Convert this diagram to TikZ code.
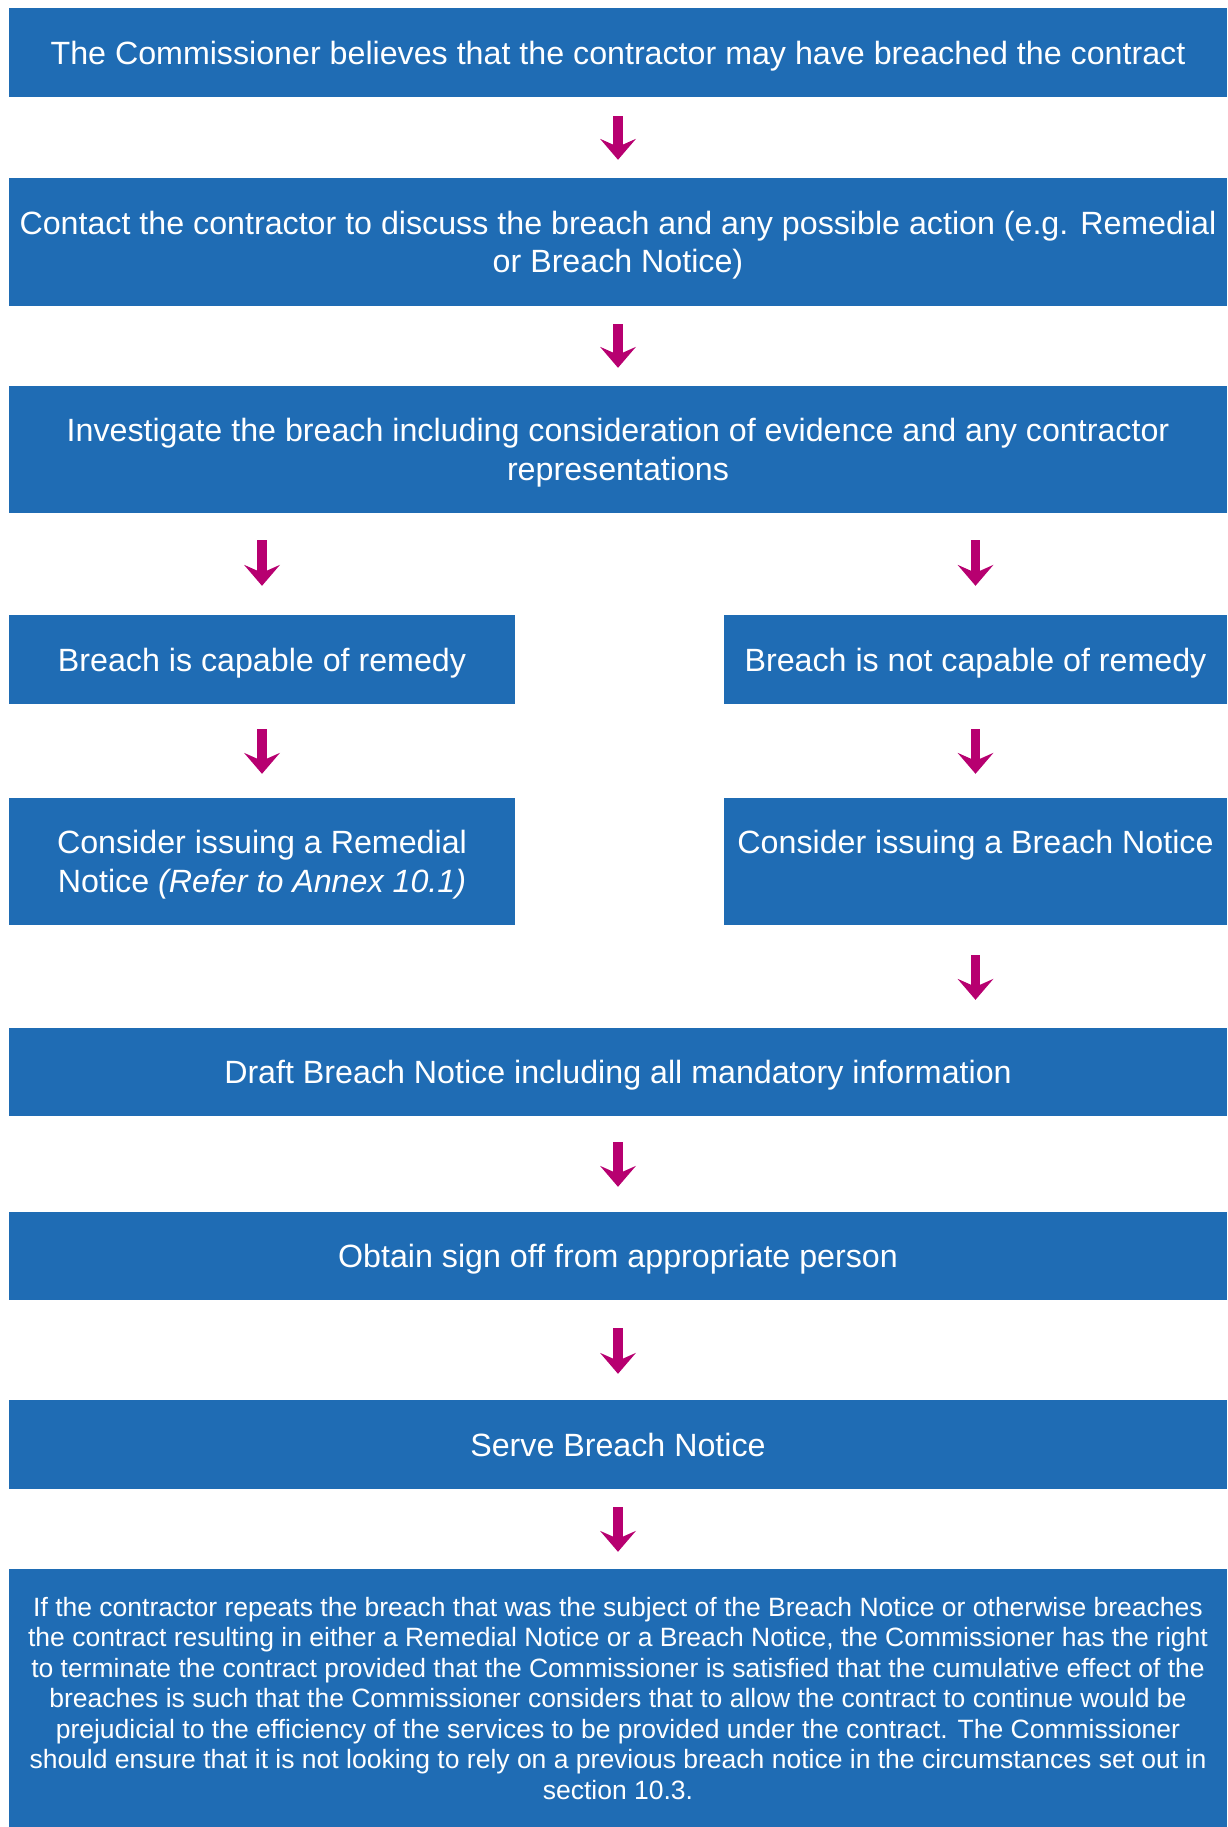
\documentclass[tikz,border=0pt]{standalone}
\usepackage{fontspec}
\setmainfont{Liberation Sans}
\usetikzlibrary{arrows.meta}
\definecolor{boxblue}{RGB}{31,108,180}
\definecolor{arrmag}{RGB}{183,0,112}
\begin{document}
\begin{tikzpicture}[x=1pt,y=-1pt,
  stepbox/.style={rectangle, fill=boxblue, text=white, inner sep=0pt, align=center,
    text depth=0pt, font=\fontsize{32.2}{38.5}\selectfont},
  wide/.style={minimum width=1218pt},
  half/.style={minimum width=506pt},
  halfr/.style={minimum width=503pt},
  blk/.style={draw=arrmag, line width=9.5pt,
    -{Stealth[length=21pt,width=36pt,inset=8pt,line width=0pt,fill=arrmag]}}
]
\useasboundingbox (0,0) rectangle (1227,1827);
\fill[white] (0,0) rectangle (1227,1827);

\node[stepbox, wide, minimum height=89pt] (b1) at (618,52.5)
  {The Commissioner believes that the contractor may have breached the contract};
\node[stepbox, wide, minimum height=128pt] (b2) at (618,242)
  {Contact the contractor to discuss the breach and any possible action (e.g. Remedial\\ or Breach Notice)};
\node[stepbox, wide, minimum height=127pt] (b3) at (618,449.5)
  {Investigate the breach including consideration of evidence and any contractor\\ representations};
\node[stepbox, half, minimum height=89pt] (b4l) at (262,659.5)
  {Breach is capable of remedy};
\node[stepbox, halfr, minimum height=89pt] (b4r) at (975.5,659.5)
  {Breach is not capable of remedy};
\node[stepbox, half, minimum height=127pt] (b6l) at (262,861.5)
  {Consider issuing a Remedial\\ Notice \textit{(Refer to Annex 10.1)}};
\node[stepbox, halfr, minimum height=127pt] (b6r) at (975.5,861.5)
  {Consider issuing a Breach Notice\\ \mbox{}};
\node[stepbox, wide, minimum height=88pt] (b8) at (618,1072)
  {Draft Breach Notice including all mandatory information};
\node[stepbox, wide, minimum height=88pt] (b9) at (618,1256)
  {Obtain sign off from appropriate person};
\node[stepbox, wide, minimum height=89pt] (b10) at (618,1444.5)
  {Serve Breach Notice};
\node[stepbox, wide, minimum height=258pt, text depth=-10pt,
      font=\fontsize{26.5}{30.5}\selectfont] (b11) at (618,1698)
  {If the contractor repeats the breach that was the subject of the Breach Notice or otherwise breaches\\
   the contract resulting in either a Remedial Notice or a Breach Notice, the Commissioner has the right\\
   to terminate the contract provided that the Commissioner is satisfied that the cumulative effect of the\\
   breaches is such that the Commissioner considers that to allow the contract to continue would be\\
   prejudicial to the efficiency of the services to be provided under the contract. The Commissioner\\
   should ensure that it is not looking to rely on a previous breach notice in the circumstances set out in\\
   section 10.3.};

\draw[blk, shorten <=19pt, shorten >=18pt] (b1) -- (b2);
\draw[blk, shorten <=18pt, shorten >=18pt] (b2) -- (b3);
\draw[blk, shorten <=27pt, shorten >=29pt] (b3.south -| b4l) -- (b4l.north);
\draw[blk, shorten <=27pt, shorten >=29pt] (b3.south -| b4r) -- (b4r.north);
\draw[blk, shorten <=25pt, shorten >=24pt] (b4l) -- (b6l);
\draw[blk, shorten <=25pt, shorten >=24pt] (b4r) -- (b6r);
\draw[blk, shorten <=30pt, shorten >=28pt] (b6r.south) -- (b8.north -| b6r);
\draw[blk, shorten <=26pt, shorten >=25pt] (b8) -- (b9);
\draw[blk, shorten <=28pt, shorten >=26pt] (b9) -- (b10);
\draw[blk, shorten <=18pt, shorten >=17pt] (b10) -- (b11);
\end{tikzpicture}
\end{document}
